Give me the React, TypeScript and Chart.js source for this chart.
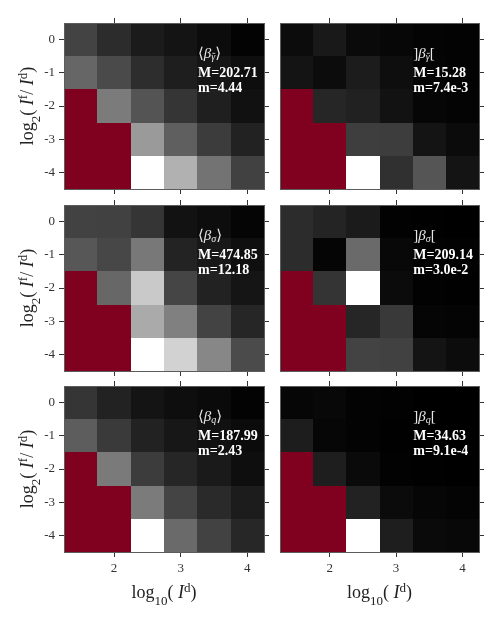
import React, { useEffect, useRef } from 'react';
import { Chart, registerables } from 'chart.js';

Chart.register(...registerables);

// ---------- data ----------
const xCenters = [1.5, 2, 2.5, 3, 3.5, 4];
const yCenters = [0, -1, -2, -3, -4];
const xTickValues = [2, 3, 4];
const yTickValues = [0, -1, -2, -3, -4];

// grey level of each cell (0 = black, 255 = white); null = no data (dark red)
const gammaMean = [
  [67, 44, 27, 20, 12, 3],
  [102, 74, 45, 30, 22, 14],
  [null, 123, 84, 53, 31, 17],
  [null, null, 154, 95, 60, 34],
  [null, null, 255, 177, 115, 65],
];
const gammaRange = [
  [12, 25, 10, 7, 4, 3],
  [20, 12, 28, 14, 5, 3],
  [null, 38, 33, 18, 6, 4],
  [null, null, 62, 61, 20, 11],
  [null, null, 255, 48, 85, 20],
];
const sigmaMean = [
  [66, 65, 53, 18, 13, 5],
  [87, 71, 120, 35, 24, 15],
  [null, 103, 201, 69, 34, 21],
  [null, null, 170, 128, 67, 38],
  [null, null, 255, 210, 135, 75],
];
const sigmaRange = [
  [44, 36, 27, 2, 1, 0],
  [44, 5, 106, 8, 3, 2],
  [null, 52, 255, 11, 2, 1],
  [null, null, 38, 57, 5, 4],
  [null, null, 67, 65, 20, 12],
];
const qMean = [
  [53, 34, 20, 14, 10, 3],
  [93, 58, 34, 23, 17, 11],
  [null, 122, 60, 38, 26, 14],
  [null, null, 123, 68, 42, 28],
  [null, null, 255, 106, 66, 39],
];
const qRange = [
  [6, 8, 3, 2, 0, 0],
  [29, 6, 3, 1, 0, 0],
  [null, 30, 10, 2, 1, 0],
  [null, null, 34, 11, 6, 4],
  [null, null, 255, 30, 10, 8],
];

const panelValues = [gammaMean, gammaRange, sigmaMean, sigmaRange, qMean, qRange];
const panelOpen = ['\u27E8', ']', '\u27E8', ']', '\u27E8', ']'];
const panelClose = ['\u27E9', '[', '\u27E9', '[', '\u27E9', '['];
const panelSub = ['\u03B3', '\u03B3', '\u03C3', '\u03C3', 'q', 'q'];
const panelSubBar = [true, true, false, false, false, false];
const panelMax = ['M=202.71', 'M=15.28', 'M=474.85', 'M=209.14', 'M=187.99', 'M=34.63'];
const panelMin = ['m=4.44', 'm=7.4e-3', 'm=12.18', 'm=3.0e-2', 'm=2.43', 'm=9.1e-4'];

// ---------- style / layout ----------
const MISSING = '#800020';
const FONT = '"Liberation Serif", "DejaVu Serif", serif';
const X_MIN = 1.25, X_MAX = 4.25, Y_MIN = -4.5, Y_MAX = 0.5;
const ANN_X = 3.26;
const ANN_Y = [-0.45, -1.03, -1.48];

const cols = [
  { left: 0, w: 272, yw: 64, y2w: 8, isLeft: true },
  { left: 272, w: 226, yw: 8, y2w: 19, isLeft: false },
];
const rows = [
  { top: 0, h: 197, x2h: 23, xh: 8, isBottom: false },
  { top: 197, h: 181, x2h: 8, xh: 7, isBottom: false },
  { top: 378, h: 240, x2h: 8, xh: 66, isBottom: true },
];

type Run = { t: string; size: number; italic?: boolean; bold?: boolean; dy?: number; bar?: boolean };

function runFont(r: Run) {
  return `${r.italic ? 'italic ' : ''}${r.bold ? 'bold ' : ''}${r.size}px ${FONT}`;
}

function drawRuns(ctx: CanvasRenderingContext2D, runs: Run[], x: number, y: number, align: 'left' | 'center') {
  let w = 0;
  for (const r of runs) {
    ctx.font = runFont(r);
    w += ctx.measureText(r.t).width;
  }
  let cx = align === 'center' ? x - w / 2 : x;
  for (const r of runs) {
    ctx.font = runFont(r);
    const rw = ctx.measureText(r.t).width;
    ctx.fillText(r.t, cx, y + (r.dy || 0));
    if (r.bar) {
      ctx.save();
      ctx.strokeStyle = ctx.fillStyle as string;
      ctx.lineWidth = 0.8;
      ctx.beginPath();
      const by = y + (r.dy || 0) - r.size * 0.42;
      ctx.moveTo(cx + 1, by);
      ctx.lineTo(cx + rw, by);
      ctx.stroke();
      ctx.restore();
    }
    cx += rw;
  }
}

const xTitleRuns: Run[] = [
  { t: 'log', size: 18 },
  { t: '10', size: 13, dy: 7 },
  { t: '( ', size: 18 },
  { t: 'I', size: 18, italic: true },
  { t: 'd', size: 13, dy: -6 },
  { t: ')', size: 18 },
];
const yTitleRuns: Run[] = [
  { t: 'log', size: 18 },
  { t: '2', size: 13, dy: 7 },
  { t: '( ', size: 18 },
  { t: 'I', size: 18, italic: true },
  { t: 'f', size: 13, dy: -6 },
  { t: '/ ', size: 18 },
  { t: 'I', size: 18, italic: true },
  { t: 'd', size: 13, dy: -6 },
  { t: ')', size: 18 },
];

const cellPlugin = {
  id: 'cells',
  beforeDatasetsDraw(chart: any) {
    const ctx = chart.ctx as CanvasRenderingContext2D;
    const xs = chart.scales.x;
    const ys = chart.scales.y;
    const pts = chart.data.datasets[0].data as { x: number; y: number; v: number | null }[];
    ctx.save();
    for (const p of pts) {
      const l = Math.round(xs.getPixelForValue(p.x - 0.25));
      const r = Math.round(xs.getPixelForValue(p.x + 0.25));
      const t = Math.round(ys.getPixelForValue(p.y + 0.5));
      const b = Math.round(ys.getPixelForValue(p.y - 0.5));
      ctx.fillStyle = p.v == null ? MISSING : `rgb(${p.v},${p.v},${p.v})`;
      ctx.fillRect(l, t, r - l, b - t);
    }
    ctx.restore();
  },
};

const textPlugin = {
  id: 'texts',
  afterDraw(chart: any) {
    const o = chart.options.plugins.texts;
    const ctx = chart.ctx as CanvasRenderingContext2D;
    const xs = chart.scales.x;
    const ys = chart.scales.y;
    const area = chart.chartArea;
    ctx.save();
    ctx.textBaseline = 'middle';
    ctx.textAlign = 'left';
    const ax = xs.getPixelForValue(ANN_X);
    ctx.fillStyle = '#e6e6e6';
    drawRuns(ctx, [
      { t: o.open, size: 15 },
      { t: '\u03B2', size: 15, italic: true },
      { t: o.sub, size: 10, italic: true, dy: 3, bar: o.subBar },
      { t: o.close, size: 15 },
    ], ax, ys.getPixelForValue(ANN_Y[0]), 'left');
    ctx.fillStyle = '#ffffff';
    drawRuns(ctx, [{ t: o.max, size: 14, bold: true }], ax, ys.getPixelForValue(ANN_Y[1]), 'left');
    drawRuns(ctx, [{ t: o.min, size: 14, bold: true }], ax, ys.getPixelForValue(ANN_Y[2]), 'left');

    ctx.textBaseline = 'alphabetic';
    ctx.fillStyle = '#222';
    if (o.isLeft) {
      ctx.save();
      ctx.translate(33, (area.top + area.bottom) / 2);
      ctx.rotate(-Math.PI / 2);
      drawRuns(ctx, yTitleRuns, 0, 0, 'center');
      ctx.restore();
    }
    if (o.isBottom) {
      drawRuns(ctx, xTitleRuns, (area.left + area.right) / 2, area.bottom + 46, 'center');
    }
    ctx.restore();
  },
};

function fixed(size: number) {
  return (scale: any) => {
    if (scale.isHorizontal()) scale.height = size;
    else scale.width = size;
    scale.paddingTop = 0;
    scale.paddingBottom = 0;
    scale.paddingLeft = 0;
    scale.paddingRight = 0;
  };
}

function axis(position: string, min: number, max: number, tickVals: number[], size: number, showLabels: boolean, showTicks: boolean) {
  return {
    type: 'linear',
    position,
    min,
    max,
    afterBuildTicks: (scale: any) => {
      scale.ticks = tickVals.map((v) => ({ value: v }));
    },
    afterFit: fixed(size),
    grid: {
      display: true,
      drawOnChartArea: false,
      drawTicks: showTicks,
      tickLength: 5,
      tickWidth: 1,
      tickColor: '#333',
      color: '#333',
    },
    border: { display: true, color: '#5c5c5c', width: 1, z: 1 },
    ticks: {
      display: showLabels,
      padding: 4,
      color: '#333',
      font: { family: FONT, size: 13 },
      callback: (v: any) => String(v),
      maxRotation: 0,
      autoSkip: false,
    },
  };
}

function Panel({ idx }: { idx: number }) {
  const ref = useRef<HTMLCanvasElement>(null);
  const col = cols[idx % 2];
  const row = rows[Math.floor(idx / 2)];
  useEffect(() => {
    const values = panelValues[idx];
    const data: { x: number; y: number; v: number | null }[] = [];
    values.forEach((r, ri) => r.forEach((v, ci) => data.push({ x: xCenters[ci], y: yCenters[ri], v })));
    const chart = new Chart(ref.current as HTMLCanvasElement, {
      type: 'scatter',
      data: { datasets: [{ data, pointRadius: 0, pointHoverRadius: 0 }] as any },
      options: {
        animation: false,
        responsive: false,
        devicePixelRatio: 1,
        layout: { padding: 0 },
        events: [],
        plugins: {
          legend: { display: false },
          tooltip: { enabled: false },
          texts: {
            open: panelOpen[idx],
            close: panelClose[idx],
            sub: panelSub[idx],
            subBar: panelSubBar[idx],
            max: panelMax[idx],
            min: panelMin[idx],
            isLeft: col.isLeft,
            isBottom: row.isBottom,
          },
        } as any,
        scales: {
          x: axis('bottom', X_MIN, X_MAX, xTickValues, row.xh, row.isBottom, true),
          x2: axis('top', X_MIN, X_MAX, xTickValues, row.x2h, false, true),
          y: axis('left', Y_MIN, Y_MAX, yTickValues, col.yw, col.isLeft, col.isLeft),
          y2: axis('right', Y_MIN, Y_MAX, yTickValues, col.y2w, false, true),
        } as any,
      },
      plugins: [cellPlugin, textPlugin],
    });
    return () => chart.destroy();
  }, []);
  return (
    <canvas
      ref={ref}
      width={col.w}
      height={row.h}
      style={{ position: 'absolute', left: col.left, top: row.top, width: col.w, height: row.h }}
    />
  );
}

export default function App() {
  return (
    <div style={{ position: 'absolute', left: 0, top: 0, width: 498, height: 618, background: '#fff' }}>
      {[0, 1, 2, 3, 4, 5].map((i) => (
        <Panel key={i} idx={i} />
      ))}
    </div>
  );
}
